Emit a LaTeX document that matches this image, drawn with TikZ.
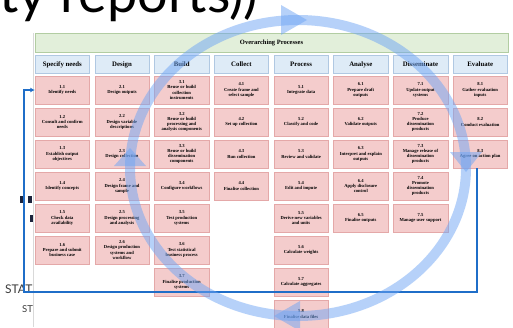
\documentclass[tikz,border=0pt]{standalone}
\usepackage{fontspec}
\setmainfont{Liberation Serif}
\newfontfamily\slidefont{Lato}
\usetikzlibrary{arrows.meta}

\definecolor{taskfill}{RGB}{244,204,204}
\definecolor{taskline}{RGB}{228,168,168}
\definecolor{phasefill}{RGB}{222,235,247}
\definecolor{phaseline}{RGB}{176,200,226}
\definecolor{bandfill}{RGB}{226,239,218}
\definecolor{bandline}{RGB}{178,205,162}
\definecolor{loopblue}{RGB}{31,110,200}
\definecolor{ringblue}{RGB}{110,165,245}
\definecolor{statgray}{RGB}{60,60,60}
\definecolor{markdark}{RGB}{28,36,60}

\begin{document}
\begin{tikzpicture}[x=1pt,y=-1pt,
		task/.style={draw=taskline, fill=taskfill, line width=0.5pt, minimum width=54.5pt, minimum height=28pt, inner sep=1pt, align=center, font=\fontsize{4.6}{5.2}\selectfont\bfseries},
		phase/.style={draw=phaseline, fill=phasefill, line width=0.5pt, minimum width=54.5pt, minimum height=18pt, inner sep=1pt, font=\fontsize{6.8}{8}\selectfont\bfseries},
		band/.style={draw=bandline, fill=bandfill, line width=0.5pt, minimum width=473pt, minimum height=19pt, font=\fontsize{6.5}{8}\selectfont\bfseries},
		feedback/.style={draw=loopblue, line width=1.6pt, -{Latex[length=4.5pt,width=5pt]}},
		ring/.style={draw=ringblue, line width=10pt, opacity=0.5},
		ringhead/.style={fill=ringblue, opacity=0.5}
	]
	\clip (0,0) rectangle (513,327);
	\fill[white] (0,0) rectangle (513,327);
	\node[anchor=base west, inner sep=0pt, font=\slidefont\fontsize{54}{60}\selectfont] (title) at (-1,12) {ty reports))};
	\node[anchor=base west, inner sep=0pt, text=statgray, font=\slidefont\fontsize{12}{14}\selectfont] (stat) at (5,293) {STAT};
	\node[anchor=base west, inner sep=0pt, text=statgray, font=\slidefont\fontsize{9.5}{11}\selectfont] (st) at (22,312) {ST};
	\fill[markdark] (20,196) rectangle (24,203);
	\fill[markdark] (28,196) rectangle (32,203);
	\fill[markdark] (30,215) rectangle (33,222);
	\draw[black!15, line width=0.5pt] (33,33) -- (33,327);
	% overarching band and phases
	\node[band] (Overarching) at (271.5,42.5) {Overarching Processes};
	\node[phase] (Specify) at (62.3,64.5) {Specify needs};
	\node[phase] (Design) at (122,64.5) {Design};
	\node[phase] (Build) at (181.7,64.5) {Build};
	\node[phase] (Collect) at (241.4,64.5) {Collect};
	\node[phase] (Process) at (301.1,64.5) {Process};
	\node[phase] (Analyse) at (360.8,64.5) {Analyse};
	\node[phase] (Disseminate) at (420.5,64.5) {Disseminate};
	\node[phase] (Evaluate) at (480.2,64.5) {Evaluate};
	% 1 specify needs
	\node[task] (t11) at (62.3,90) {1.1\\Identify needs};
	\node[task] (t12) at (62.3,122) {1.2\\Consult and confirm\\needs};
	\node[task] (t13) at (62.3,154) {1.3\\Establish output\\objectives};
	\node[task] (t14) at (62.3,186) {1.4\\Identify concepts};
	\node[task] (t15) at (62.3,218) {1.5\\Check data\\availability};
	\node[task] (t16) at (62.3,250) {1.6\\Prepare and submit\\business case};
	% 2 design
	\node[task] (t21) at (122,90) {2.1\\Design outputs};
	\node[task] (t22) at (122,122) {2.2\\Design variable\\descriptions};
	\node[task] (t23) at (122,154) {2.3\\Design collection};
	\node[task] (t24) at (122,186) {2.4\\Design frame and\\sample};
	\node[task] (t25) at (122,218) {2.5\\Design processing\\and analysis};
	\node[task] (t26) at (122,250) {2.6\\Design production\\systems and\\workflow};
	% 3 build
	\node[task] (t31) at (181.7,90) {3.1\\Reuse or build\\collection\\instruments};
	\node[task] (t32) at (181.7,122) {3.2\\Reuse or build\\processing and\\analysis components};
	\node[task] (t33) at (181.7,154) {3.3\\Reuse or build\\dissemination\\components};
	\node[task] (t34) at (181.7,186) {3.4\\Configure workflows};
	\node[task] (t35) at (181.7,218) {3.5\\Test production\\systems};
	\node[task] (t36) at (181.7,250) {3.6\\Test statistical\\business process};
	\node[task] (t37) at (181.7,282) {3.7\\Finalise production\\systems};
	% 4 collect
	\node[task] (t41) at (241.4,90) {4.1\\Create frame and\\select sample};
	\node[task] (t42) at (241.4,122) {4.2\\Set up collection};
	\node[task] (t43) at (241.4,154) {4.3\\Run collection};
	\node[task] (t44) at (241.4,186) {4.4\\Finalise collection};
	% 5 process
	\node[task] (t51) at (301.1,90) {5.1\\Integrate data};
	\node[task] (t52) at (301.1,122) {5.2\\Classify and code};
	\node[task] (t53) at (301.1,154) {5.3\\Review and validate};
	\node[task] (t54) at (301.1,186) {5.4\\Edit and impute};
	\node[task] (t55) at (301.1,218) {5.5\\Derive new variables\\and units};
	\node[task] (t56) at (301.1,250) {5.6\\Calculate weights};
	\node[task] (t57) at (301.1,282) {5.7\\Calculate aggregates};
	\node[task] (t58) at (301.1,314) {5.8\\Finalise data files};
	% 6 analyse
	\node[task] (t61) at (360.8,90) {6.1\\Prepare draft\\outputs};
	\node[task] (t62) at (360.8,122) {6.2\\Validate outputs};
	\node[task] (t63) at (360.8,154) {6.3\\Interpret and explain\\outputs};
	\node[task] (t64) at (360.8,186) {6.4\\Apply disclosure\\control};
	\node[task] (t65) at (360.8,218) {6.5\\Finalise outputs};
	% 7 disseminate
	\node[task] (t71) at (420.5,90) {7.1\\Update output\\systems};
	\node[task] (t72) at (420.5,122) {7.2\\Produce\\dissemination\\products};
	\node[task] (t73) at (420.5,154) {7.3\\Manage release of\\dissemination\\products};
	\node[task] (t74) at (420.5,186) {7.4\\Promote\\dissemination\\products};
	\node[task] (t75) at (420.5,218) {7.5\\Manage user support};
	% 8 evaluate
	\node[task] (t81) at (480.2,90) {8.1\\Gather evaluation\\inputs};
	\node[task] (t82) at (480.2,122) {8.2\\Conduct evaluation};
	\node[task] (t83) at (480.2,154) {8.3\\Agree on action plan};
	% feedback loop back to the start
	\coordinate (loopcorner) at (24,292);
	\draw[feedback] ([xshift=-3pt]t83.south) |- (loopcorner) |- (t11.west);
	% big cycle arrow
	\draw[ring] (298,168) ellipse [x radius=168pt, y radius=148pt];
	\fill[ringhead] (281,5) -- (307,20) -- (281,35) -- cycle;
	\fill[ringhead] (450,152) -- (482,152) -- (466,172) -- cycle;
	\fill[ringhead] (300,301) -- (274,316) -- (300,331) -- cycle;
	\fill[ringhead] (114,166) -- (146,166) -- (130,148) -- cycle;
\end{tikzpicture}
\end{document}
